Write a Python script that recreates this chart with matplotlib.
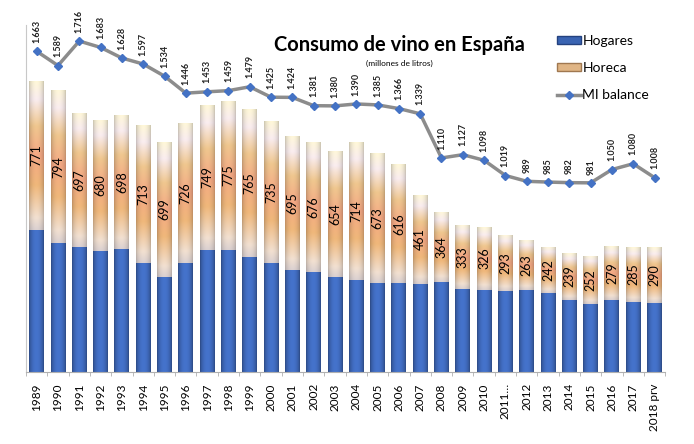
import matplotlib
matplotlib.use('Agg')
import matplotlib.pyplot as plt
import numpy as np
from matplotlib.lines import Line2D
from matplotlib.patches import Patch

plt.rcParams['font.family'] = ['Lato', 'DejaVu Sans']

years = ['1989', '1990', '1991', '1992', '1993', '1994', '1995', '1996', '1997', '1998',
         '1999', '2000', '2001', '2002', '2003', '2004', '2005', '2006', '2007', '2008',
         '2009', '2010', '2011…', '2012', '2013', '2014', '2015', '2016', '2017', '2018 prv']
# hogares has no labels in the original
hogares = [739, 667, 646, 628, 637, 566, 494, 563, 634, 632,
           597, 566, 530, 518, 494, 477, 461, 461, 457, 465,
           432, 428, 420, 423, 408, 376, 351, 376, 364, 356]
horeca = [771, 794, 697, 680, 698, 713, 699, 726, 749, 775,
          765, 735, 695, 676, 654, 714, 673, 616, 461, 364,
          333, 326, 293, 263, 242, 239, 252, 279, 285, 290]
mi_balance = [1663, 1589, 1716, 1683, 1628, 1597, 1534, 1446, 1453, 1459,
              1479, 1425, 1424, 1381, 1380, 1390, 1385, 1366, 1339, 1110,
              1127, 1098, 1019, 989, 985, 982, 981, 1050, 1080, 1008]

fig = plt.figure(figsize=(6.94, 4.44), dpi=100)
ax = fig.add_axes([0.0375, 0.162, 0.921, 0.782])

x = np.arange(len(years))
b1 = ax.bar(x, hogares, width=0.7, color='#3a64b2', zorder=2)
b2 = ax.bar(x, horeca, width=0.7, bottom=hogares, color='#e8b88c', zorder=2)

# fake the 3d / cylinder shading with clipped gradient images
nx, ny = 40, 120
u = np.linspace(0, 1, nx)
shade = 0.62 + 0.38 * np.sin(np.pi * u) ** 0.6

blue_img = np.ones((ny, nx, 3)) * np.array([0.27, 0.45, 0.80])
blue_img = blue_img * shade[None, :, None]

stops = np.array([0.0, 0.08, 0.3, 0.5, 0.7, 0.88, 1.0])
cols = np.array([[0.86, 0.82, 0.82],
                 [0.95, 0.88, 0.82],
                 [0.94, 0.72, 0.48],
                 [0.96, 0.66, 0.52],
                 [0.94, 0.78, 0.56],
                 [0.98, 0.93, 0.94],
                 [1.00, 0.97, 0.85]])
v = np.linspace(0, 1, ny)
vert = np.stack([np.interp(v, stops, cols[:, k]) for k in range(3)], axis=1)
hshade = 0.78 + 0.22 * np.sin(np.pi * u) ** 0.6
tan_img = vert[:, None, :] * hshade[None, :, None]

for bars, img in ((b1, blue_img), (b2, tan_img)):
    for p in bars:
        x0, y0 = p.get_x(), p.get_y()
        w, h = p.get_width(), p.get_height()
        im = ax.imshow(img, extent=(x0, x0 + w, y0, y0 + h), origin='lower',
                       aspect='auto', zorder=2.5, interpolation='bilinear')
        im.set_clip_path(p)

for i, p in enumerate(b2):
    ax.text(p.get_x() + p.get_width() / 2, p.get_y() + p.get_height() / 2,
            str(horeca[i]), rotation=90, ha='center', va='center',
            fontsize=9, color='black', zorder=4)

ax.plot(x, mi_balance, color='#8c8c8c', lw=2.5, marker='D', markersize=4.5,
        markerfacecolor='#4472c4', markeredgecolor='#4472c4', zorder=5)


def fmt(val):
    return '{:,}'.format(val).replace(',', '.')


for xi, val in zip(x, mi_balance):
    ax.annotate(fmt(val), (xi, val), xytext=(0, 6), textcoords='offset points',
                rotation=90, ha='center', va='bottom', fontsize=6.5,
                fontweight='bold', color='#222222', zorder=6)

ax.set_xlim(-0.5, len(years) - 0.5)
ax.set_ylim(0, 1800)
ax.set_xticks(x)
ax.set_xticklabels(years, rotation=90, fontsize=8.5)
ax.set_xticks(np.arange(-0.5, len(years), 1), minor=True)
ax.tick_params(axis='x', which='major', length=0, pad=8)
ax.tick_params(axis='x', which='minor', length=3, color='#b0b0b0')
ax.set_yticks([])
for s in ('top', 'right'):
    ax.spines[s].set_visible(False)
ax.spines['left'].set_color('#c8c8c8')
ax.spines['bottom'].set_color('#b0b0b0')

fig.text(0.576, 0.898, 'Consumo de vino en España', ha='center', va='center',
         fontsize=14.5, fontweight='bold')
fig.text(0.576, 0.858, '(millones de litros)', ha='center', va='center', fontsize=6)

handles = [Patch(facecolor='#3a64b2', edgecolor='#24427f'),
           Patch(facecolor='#e0b585', edgecolor='#a07850'),
           Line2D([0], [0], color='#8c8c8c', lw=2.5, marker='D', markersize=4,
                  markerfacecolor='#4472c4', markeredgecolor='#4472c4')]
fig.legend(handles, ['Hogares', 'Horeca', 'MI balance'], loc='upper left',
           bbox_to_anchor=(0.785, 0.95), frameon=False, fontsize=10,
           handlelength=1.7, handleheight=0.5, handletextpad=0.1, labelspacing=1.1)

fig.savefig('out.png', dpi=100)
